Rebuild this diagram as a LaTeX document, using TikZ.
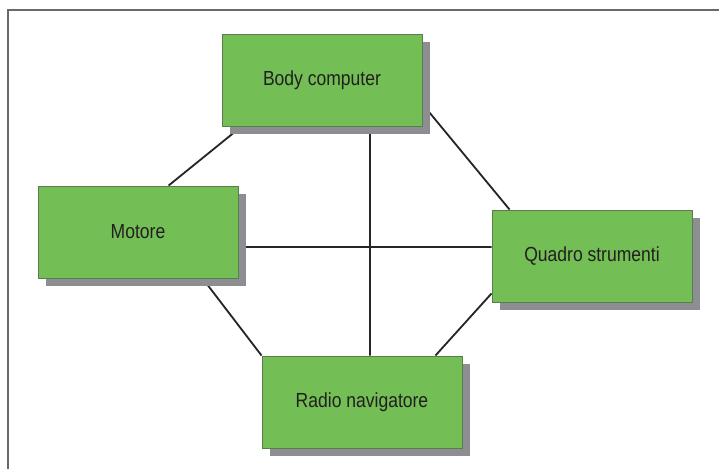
\documentclass[tikz,border=0pt]{standalone}
\usepackage{fontspec}
\setmainfont{Liberation Sans}[FakeStretch=0.86]
\usetikzlibrary{shadows,backgrounds}

\definecolor{boxgreen}{RGB}{115,190,85}
\definecolor{boxedge}{RGB}{90,125,75}
\definecolor{shadowgray}{RGB}{140,142,145}
\definecolor{framegray}{RGB}{105,105,105}
\definecolor{textdark}{RGB}{35,31,32}

\begin{document}
\begin{tikzpicture}[
    unit/.style={
        draw=boxedge,
        line width=0.6pt,
        fill=boxgreen,
        text=textdark,
        align=center,
        minimum width=5cm,
        minimum height=2.3cm,
        font=\fontsize{14.5}{17}\selectfont,
        drop shadow={shadow xshift=0.2cm, shadow yshift=-0.2cm,
            fill=shadowgray, opacity=1}
    },
    link/.style={
        line width=1.3pt,
        black!85
    }
]
\useasboundingbox (0,0) rectangle (17.975,11.725);

% open frame
\draw[framegray, line width=1.2pt] (0.2,0) -- (0.2,11.475) -- (17.975,11.475);

\node[unit] (body) at (8.05,9.725) {Body computer};
\node[unit] (motore) at (3.45,5.925) {Motore};
\node[unit] (quadro) at (14.8,5.325) {Quadro strumenti};
\node[unit] (radio) at (9.05,1.675) {Radio navigatore};

\begin{pgfonlayer}{background}
\draw[link] ([xshift=3.275cm]motore.north west) -- ([xshift=0.5cm]body.south west);
\draw[link] ([xshift=1.2cm]body.south) -- ([xshift=0.2cm]radio.north);
\draw[link] ([yshift=-0.375cm]motore.east) -- ([yshift=0.225cm]quadro.west);
\draw[link] ([yshift=-0.6cm]body.east) -- ([xshift=0.45cm]quadro.north west);
\draw[link] ([xshift=4.125cm]motore.south west) -- (radio.north west);
\draw[link] ([yshift=0.225cm]quadro.south west) -- ([xshift=-0.675cm]radio.north east);
\end{pgfonlayer}

\end{tikzpicture}
\end{document}
